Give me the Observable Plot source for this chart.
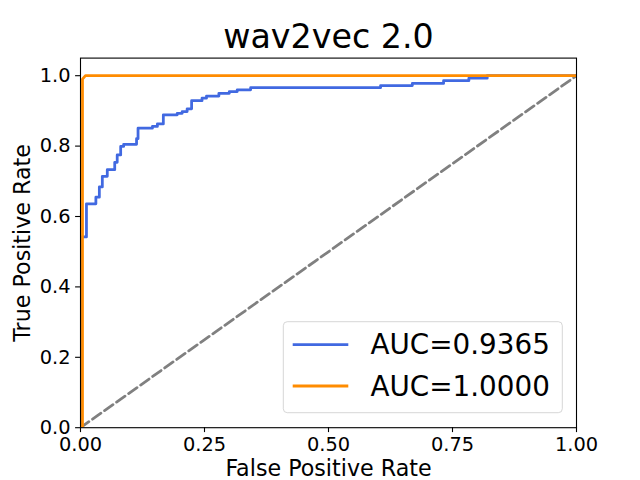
<!DOCTYPE html>
<html>
<head>
<meta charset="utf-8">
<script src="https://cdn.jsdelivr.net/npm/d3@7"></script>
<script src="https://cdn.jsdelivr.net/npm/@observablehq/plot@0.6"></script>
<style>
  html, body { margin: 0; padding: 0; background: white; }
  #wrap { position: relative; width: 640px; height: 480px; font-family: "DejaVu Sans", sans-serif; }
  #legend { position: absolute; left: 0; top: 0; pointer-events: none; }
</style>
</head>
<body>
<div id="wrap"></div>
<script>
// ---- Data ----
const chartTitle = "wav2vec 2.0";
const xLabel = "False Positive Rate";
const yLabel = "True Positive Rate";
const xTicks = [0, 0.25, 0.5, 0.75, 1.0];
const yTicks = [0, 0.2, 0.4, 0.6, 0.8, 1.0];
const seriesLabels = ["AUC=0.9365", "AUC=1.0000"];
const seriesColors = ["#4169e1", "#ff8c00"];

const fprBlue = [0, 0, 0.012, 0.012, 0.031, 0.031, 0.038, 0.038, 0.044, 0.044, 0.054, 0.054,
  0.069, 0.069, 0.074, 0.074, 0.081, 0.081, 0.087, 0.087, 0.113, 0.113, 0.116, 0.116,
  0.145, 0.145, 0.155, 0.155, 0.167, 0.167, 0.195, 0.195, 0.205, 0.205, 0.215, 0.215,
  0.224, 0.224, 0.245, 0.245, 0.254, 0.254, 0.279, 0.279, 0.300, 0.300, 0.316, 0.316,
  0.343, 0.343, 0.605, 0.605, 0.669, 0.669, 0.732, 0.732, 0.783, 0.783, 0.820, 0.820, 1.0];
const tprBlue = [0, 0.542, 0.542, 0.636, 0.636, 0.655, 0.655, 0.684, 0.684, 0.714, 0.714, 0.733,
  0.733, 0.754, 0.754, 0.775, 0.775, 0.799, 0.799, 0.805, 0.805, 0.821, 0.821, 0.851,
  0.851, 0.856, 0.856, 0.863, 0.863, 0.889, 0.889, 0.893, 0.893, 0.898, 0.898, 0.906,
  0.906, 0.929, 0.929, 0.936, 0.936, 0.942, 0.942, 0.950, 0.950, 0.955, 0.955, 0.960,
  0.960, 0.966, 0.966, 0.972, 0.972, 0.978, 0.978, 0.986, 0.986, 0.993, 0.993, 1.0, 1.0];

const fprOrange = [0, 0.004, 0.004, 0.01, 1.0];
const tprOrange = [0, 0, 0.99, 1.0, 1.0];

const fprDiag = [0, 1];
const tprDiag = [0, 1];

// ---- Build tables ----
const toRows = (xs, ys) => xs.map((x, i) => ({x, y: ys[i]}));
const blueRows = toRows(fprBlue, tprBlue);
const orangeRows = toRows(fprOrange, tprOrange);
const diagRows = toRows(fprDiag, tprDiag);

const FONT = "DejaVu Sans";
const LW = 2.78;

const plot = Plot.plot({
  width: 640,
  height: 480,
  marginLeft: 80,
  marginRight: 64,
  marginTop: 57.6,
  marginBottom: 52.8,
  style: {fontFamily: FONT, fontSize: "19.4px", color: "black", background: "white", overflow: "visible"},
  x: {domain: [0, 1]},
  y: {domain: [0, 1.05]},
  marks: [
    Plot.line(diagRows, {x: "x", y: "y", stroke: "gray", strokeWidth: LW, strokeDasharray: "10.3,4.45", clip: true}),
    Plot.line(blueRows, {x: "x", y: "y", stroke: seriesColors[0], strokeWidth: LW, clip: true}),
    Plot.line(orangeRows, {x: "x", y: "y", stroke: seriesColors[1], strokeWidth: LW, clip: true}),
    Plot.frame({stroke: "black", strokeWidth: 1.1}),
    Plot.axisX({ticks: xTicks, tickFormat: d3.format(".2f"), tickSize: 4.9, tickPadding: 5, label: null, strokeWidth: 1.1, fontSize: 19.4}),
    Plot.axisY({ticks: yTicks, tickFormat: d3.format(".1f"), tickSize: 4.9, tickPadding: 5, label: null, strokeWidth: 1.1, fontSize: 19.4}),
    Plot.text([chartTitle], {text: d => d, frameAnchor: "top", dy: -10.6, lineAnchor: "bottom", fontSize: 33.3, fill: "black"}),
    Plot.text([xLabel], {text: d => d, frameAnchor: "bottom", dy: 48.5, lineAnchor: "bottom", fontSize: 22.2, fill: "black"}),
    Plot.text([yLabel], {text: d => d, frameAnchor: "left", rotate: -90, dx: -50.7, lineAnchor: "bottom", textAnchor: "middle", fontSize: 22.2, fill: "black"})
  ]
});

const wrap = document.getElementById("wrap");
wrap.appendChild(plot);

// ---- Legend overlay (lower right inside the axes) ----
const legendFont = 27.8;
const box = {left: 283.3, top: 321.7, width: 279, height: 91};
const leg = d3.select(wrap).append("svg")
  .attr("id", "legend")
  .attr("width", 640).attr("height", 480);
leg.append("rect")
  .attr("x", box.left).attr("y", box.top)
  .attr("width", box.width).attr("height", box.height)
  .attr("rx", 4).attr("ry", 4)
  .attr("fill", "white").attr("fill-opacity", 0.8)
  .attr("stroke", "#cccccc").attr("stroke-opacity", 0.8).attr("stroke-width", 1);
const rowBaselines = [354.3, 395.7];
const rowLineY = [344.7, 386];
seriesLabels.forEach((lab, i) => {
  leg.append("line")
    .attr("x1", box.left + 9.4).attr("x2", box.left + 9.4 + 55.6)
    .attr("y1", rowLineY[i]).attr("y2", rowLineY[i])
    .attr("stroke", seriesColors[i]).attr("stroke-width", LW);
  leg.append("text")
    .attr("x", box.left + 9.4 + 55.6 + 22.2)
    .attr("y", rowBaselines[i])
    .attr("font-family", FONT)
    .attr("font-size", legendFont)
    .attr("fill", "black")
    .text(lab);
});
</script>
</body>
</html>
